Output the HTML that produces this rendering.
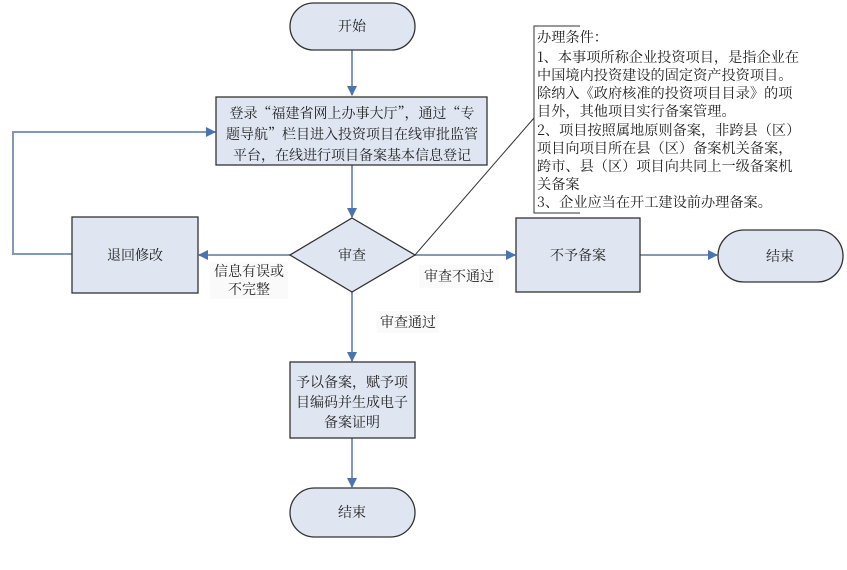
<!DOCTYPE html>
<html><head><meta charset="utf-8"><style>
body{margin:0;background:#fff}
svg text{font-family:"Noto Serif CJK SC","Noto Sans CJK SC",serif;font-size:14px;fill:#222}
</style></head><body>
<svg width="847" height="565" viewBox="0 0 847 565" xmlns="http://www.w3.org/2000/svg">
<defs><marker id="a" markerWidth="10" markerHeight="10" refX="9" refY="5" orient="auto" markerUnits="userSpaceOnUse"><path d="M0,0 L10,5 L0,10 z" fill="#4a74b0"/></marker></defs>
<g stroke="#8399b8" stroke-width="2" fill="none" marker-end="url(#a)">
<line x1="352" y1="50" x2="352" y2="95"/>
<line x1="352" y1="165" x2="352" y2="217"/>
<line x1="290" y1="255" x2="199" y2="255"/>
<polyline points="72,254 13,254 13,132 215,132"/>
<line x1="415" y1="255" x2="515" y2="255"/>
<line x1="640" y1="255" x2="717" y2="255"/>
<line x1="352" y1="292" x2="352" y2="361"/>
<line x1="352" y1="438" x2="352" y2="487"/>
</g>
<g fill="#dfe5f1" stroke="#333" stroke-width="1.3">
<rect x="290" y="3" width="125" height="47" rx="23.5"/>
<rect x="216" y="97" width="271" height="68"/>
<polygon points="352,218 415,255 352,292 290,255"/>
<rect x="72" y="217" width="126" height="76"/>
<rect x="516" y="218" width="124" height="74"/>
<rect x="718" y="230" width="125" height="52" rx="26"/>
<rect x="290" y="362" width="125" height="76"/>
<rect x="290" y="488" width="125" height="49" rx="24.5"/>
</g>
<line x1="415" y1="255" x2="534" y2="118" stroke="#333" stroke-width="1"/>
<polyline points="580,26 534,26 534,213 580,213" fill="none" stroke="#333" stroke-width="1"/>
<rect x="210" y="262" width="78" height="37" fill="#fafafa"/>
<rect x="419" y="265" width="80" height="23" fill="#fafafa"/>
<rect x="377" y="311" width="62" height="22" fill="#fafafa"/>
<g text-anchor="middle">
<text x="352" y="31">开始</text>
<text x="352" y="118">登录“福建省网上办事大厅”，通过“专</text>
<text x="352" y="139">题导航”栏目进入投资项目在线审批监管</text>
<text x="352" y="160">平台，在线进行项目备案基本信息登记</text>
<text x="352" y="260">审查</text>
<text x="135" y="260">退回修改</text>
<text x="578" y="260">不予备案</text>
<text x="780" y="261">结束</text>
<text x="352" y="387">予以备案，赋予项</text>
<text x="352" y="407">目编码并生成电子</text>
<text x="352" y="427">备案证明</text>
<text x="352" y="517">结束</text>
<text x="249" y="276">信息有误或</text>
<text x="249" y="294">不完整</text>
<text x="459" y="281">审查不通过</text>
<text x="408" y="327">审查通过</text>
</g>
<g>
<text x="537" y="42" style="font-size:14.2px">办理条件：</text>
<text x="537" y="62" style="font-size:14.2px">1、本事项所称企业投资项目，是指企业在</text>
<text x="537" y="80" style="font-size:14.2px">中国境内投资建设的固定资产投资项目。</text>
<text x="537" y="98" style="font-size:14.2px">除纳入《政府核准的投资项目目录》的项</text>
<text x="537" y="116" style="font-size:14.2px">目外，其他项目实行备案管理。</text>
<text x="537" y="135" style="font-size:14.2px">2、项目按照属地原则备案，非跨县（区）</text>
<text x="537" y="153" style="font-size:14.2px">项目向项目所在县（区）备案机关备案，</text>
<text x="537" y="171" style="font-size:14.2px">跨市、县（区）项目向共同上一级备案机</text>
<text x="537" y="189" style="font-size:14.2px">关备案</text>
<text x="537" y="207" style="font-size:14.2px">3、企业应当在开工建设前办理备案。</text>
</g>
</svg>
</body></html>
